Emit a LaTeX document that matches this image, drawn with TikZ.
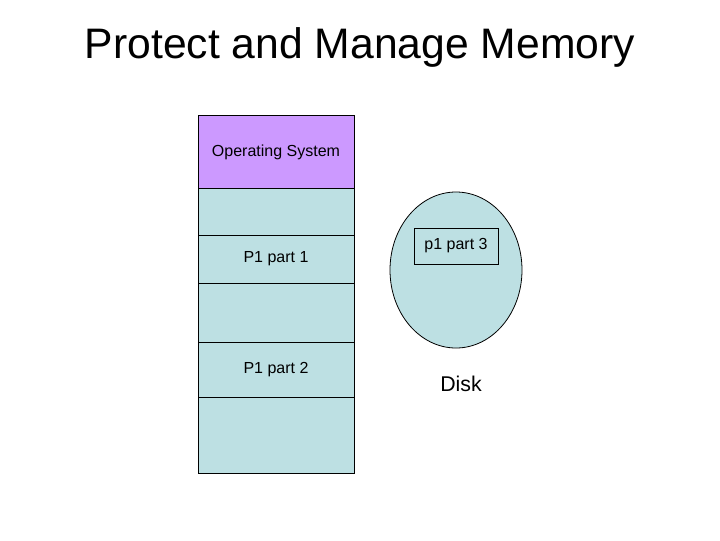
\documentclass[tikz,border=0pt]{standalone}
\usepackage{fontspec}
\setmainfont{Liberation Sans}
\definecolor{memblue}{RGB}{189,224,227}
\definecolor{ospurple}{RGB}{204,153,255}
\begin{document}
\begin{tikzpicture}[x=0.75pt,y=0.75pt,yscale=-1,xscale=1,
  cell/.style={draw=black,fill=memblue,line width=0.6pt},
  lbl/.style={inner sep=0.75pt,font=\fontsize{12}{14}\selectfont}]
\useasboundingbox (0,0) rectangle (720,540);

% Title
\node (title) at (360,47) {\fontsize{32}{38}\selectfont Protect and Manage Memory};

% Memory column
\draw [cell,fill=ospurple] (198,115) rectangle (354,188);
\draw [cell] (198,188) rectangle (354,235);
\draw [cell] (198,235) rectangle (354,283);
\draw [cell] (198,283) rectangle (354,342);
\draw [cell] (198,342) rectangle (354,397);
\draw [cell] (198,397) rectangle (354,473);

% Text Node
\node [lbl] (os) at (276,152) {Operating System};
\node [lbl] (part1) at (276,259) {P1 part 1};
\node [lbl] (part2) at (276,370) {P1 part 2};

% Disk
\draw [cell] (456,270) ellipse [x radius=66,y radius=78];
\node [lbl,draw=black,line width=0.6pt,minimum width=63pt,minimum height=27pt] (part3) at (456,246) {p1 part 3};
\node [inner sep=0.75pt,font=\fontsize{16}{19}\selectfont] (disk) at (461,384) {Disk};
\end{tikzpicture}
\end{document}
